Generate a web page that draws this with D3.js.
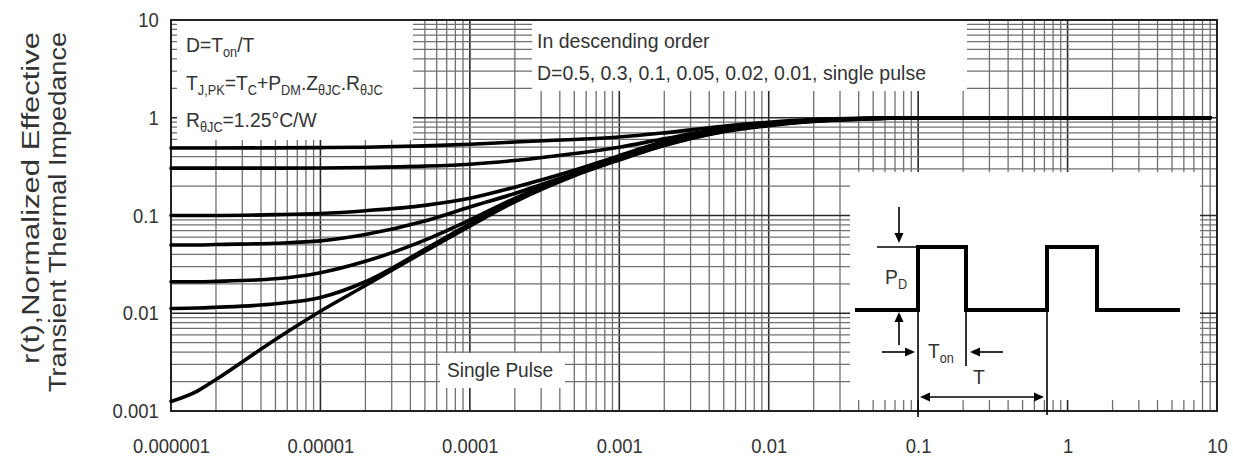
<!DOCTYPE html>
<html><head><meta charset="utf-8">
<script src="https://cdn.jsdelivr.net/npm/d3@7"></script>
<style>body{margin:0;background:#fff} svg{display:block} text{font-family:"Liberation Sans",Arial,sans-serif;}</style>
</head><body><svg id="c" width="1233" height="458"></svg>
<script>
// ---- data ----
const timePoints = [1e-6, 1.5e-6, 2e-6, 5e-6, 1e-5, 2e-5, 5e-5, 1e-4, 2e-4, 5e-4, 1e-3, 2e-3, 5e-3, 1e-2, 2e-2, 5e-2, 0.1, 1, 9];
const seriesNames = ["D=0.5", "D=0.3", "D=0.1", "D=0.05", "D=0.02", "D=0.01", "Single Pulse"];
const d050 = [0.49, 0.49, 0.49, 0.492, 0.495, 0.50, 0.515, 0.535, 0.565, 0.60, 0.635, 0.70, 0.82, 0.90, 0.96, 0.99, 1.0, 1.0, 1.0];
const d030 = [0.305, 0.305, 0.305, 0.305, 0.306, 0.31, 0.32, 0.335, 0.365, 0.43, 0.50, 0.61, 0.78, 0.88, 0.95, 0.99, 1.0, 1.0, 1.0];
const d010 = [0.10, 0.10, 0.10, 0.102, 0.105, 0.112, 0.127, 0.15, 0.195, 0.29, 0.41, 0.57, 0.76, 0.86, 0.94, 0.99, 1.0, 1.0, 1.0];
const d005 = [0.05, 0.05, 0.0505, 0.052, 0.055, 0.064, 0.088, 0.122, 0.168, 0.27, 0.385, 0.55, 0.75, 0.85, 0.935, 0.985, 1.0, 1.0, 1.0];
const d002 = [0.021, 0.021, 0.0212, 0.0225, 0.026, 0.034, 0.056, 0.09, 0.15, 0.265, 0.38, 0.535, 0.74, 0.845, 0.93, 0.985, 1.0, 1.0, 1.0];
const d001 = [0.0112, 0.0113, 0.0115, 0.0125, 0.0145, 0.021, 0.045, 0.082, 0.143, 0.26, 0.375, 0.525, 0.73, 0.84, 0.925, 0.98, 1.0, 1.0, 1.0];
const single = [0.00125, 0.0016, 0.0021, 0.0054, 0.0105, 0.0192, 0.043, 0.078, 0.138, 0.255, 0.37, 0.52, 0.72, 0.83, 0.915, 0.975, 1.0, 1.0, 1.0];
const xTickValues = [1e-6, 1e-5, 1e-4, 1e-3, 1e-2, 0.1, 1, 10];
const xTickLabels = ["0.000001", "0.00001", "0.0001", "0.001", "0.01", "0.1", "1", "10"];
const yTickValues = [0.001, 0.01, 0.1, 1, 10];
const yTickLabels = ["0.001", "0.01", "0.1", "1", "10"];
const yTitleLines = ["r(t),Normalized Effective", "Transient Thermal Impedance"];

// ---- layout ----
const L = 171, R = 1217, T = 20, B = 411;
const svg = d3.select("#c");
const x = d3.scaleLog().domain([1e-6, 10]).range([L, R]);
const y = d3.scaleLog().domain([0.001, 10]).range([B, T]);
const TXT = "#333";

// grid
const grid = svg.append("g");
const xGrid = [], yGrid = [];
for (let e = -6; e <= 0; e++) for (let k = 1; k <= 9; k++) xGrid.push({v: k * Math.pow(10, e), major: k === 1});
xGrid.push({v: 10, major: true});
for (let e = -3; e <= 0; e++) for (let k = 1; k <= 9; k++) yGrid.push({v: k * Math.pow(10, e), major: k === 1});
yGrid.push({v: 10, major: true});
grid.selectAll("line.vx").data(xGrid).join("line")
  .attr("x1", d => x(d.v)).attr("x2", d => x(d.v)).attr("y1", T).attr("y2", B)
  .attr("stroke", d => d.major ? "#2a2a2a" : "#707070").attr("stroke-width", d => d.major ? 1.6 : 1.3);
grid.selectAll("line.hy").data(yGrid).join("line")
  .attr("y1", d => y(d.v)).attr("y2", d => y(d.v)).attr("x1", L).attr("x2", R)
  .attr("stroke", d => d.major ? "#2a2a2a" : "#707070").attr("stroke-width", d => d.major ? 1.6 : 1.3);

// white annotation boxes
const boxes = [
  [177, T + 1, 236, 119],   // top-left formula box
  [532, T + 1, 435, 70],    // legend text box
  [440, 353, 125, 35],      // single pulse label
  [850, 172, 350, 228]      // inset
];
svg.append("g").selectAll("rect").data(boxes).join("rect")
  .attr("x", d => d[0]).attr("y", d => d[1]).attr("width", d => d[2]).attr("height", d => d[3])
  .attr("fill", "#fff");

// frame
svg.append("rect").attr("x", L).attr("y", T).attr("width", R - L).attr("height", B - T)
  .attr("fill", "none").attr("stroke", "#222").attr("stroke-width", 2);

// curves
const allSeries = [d050, d030, d010, d005, d002, d001, single];
const line = d3.line().x((d, i) => x(timePoints[i])).y(d => y(d)).curve(d3.curveMonotoneX);
svg.append("g").selectAll("path").data(allSeries).join("path")
  .attr("d", d => line(d)).attr("fill", "none").attr("stroke", "#000")
  .attr("stroke-width", 3.6).attr("stroke-linejoin", "round").attr("stroke-linecap", "round");

// axes
const xAxis = d3.axisBottom(x).tickValues(xTickValues).tickFormat((d, i) => xTickLabels[i]).tickSize(0).tickPadding(27);
const gx = svg.append("g").attr("transform", `translate(0,${B})`).call(xAxis);
gx.select(".domain").remove();
gx.selectAll("text").style("font-size", "21px").attr("fill", TXT).attr("transform", "scale(0.88,1)");
const yAxis = d3.axisLeft(y).tickValues(yTickValues).tickFormat((d, i) => yTickLabels[i]).tickSize(0).tickPadding(14);
const gy = svg.append("g").attr("transform", `translate(${L},0)`).call(yAxis);
gy.select(".domain").remove();
gy.selectAll("text").style("font-size", "21px").attr("fill", TXT).attr("transform", "scale(0.88,1)");

// y title
svg.append("text").attr("transform", "translate(39,32) rotate(-90) scale(1,0.88)")
  .attr("text-anchor", "end").style("font-size", "27px").attr("fill", TXT)
  .attr("textLength", 332).attr("lengthAdjust", "spacingAndGlyphs").text(yTitleLines[0]);
svg.append("text").attr("transform", "translate(66,32) rotate(-90) scale(1,0.88)")
  .attr("text-anchor", "end").style("font-size", "27px").attr("fill", TXT)
  .attr("textLength", 360).attr("lengthAdjust", "spacingAndGlyphs").text(yTitleLines[1]);

// rich text helper
function rich(px, py, parts, size, sx) {
  const t = svg.append("text").attr("transform", `translate(${px},${py}) scale(${sx},1)`)
    .style("font-size", size + "px").attr("fill", TXT);
  let shifted = false;
  parts.forEach(p => {
    const isSub = p[1];
    const ts = t.append("tspan").text(p[0]);
    if (isSub) { ts.style("font-size", (size * 0.66) + "px"); if (!shifted) { ts.attr("dy", 5); shifted = true; } }
    else if (shifted) { ts.attr("dy", -5); shifted = false; }
  });
  return t;
}
rich(186, 52, [["D=T"], ["on", 1], ["/T"]], 21, 0.92);
rich(186, 90, [["T"], ["J,PK", 1], ["=T"], ["C", 1], ["+P"], ["DM", 1], [".Z"], ["θJC", 1], [".R"], ["θJC", 1]], 21, 0.92);
rich(186, 127, [["R"], ["θJC", 1], ["=1.25°C/W"]], 21, 0.92);
rich(537, 48, [["In descending order"]], 21, 0.93);
rich(537, 80, [["D=0.5, 0.3, 0.1, 0.05, 0.02, 0.01, single pulse"]], 21, 0.93);
rich(447, 377, [["Single Pulse"]], 21, 0.91);

// inset pulse diagram
const ins = svg.append("g").attr("stroke", "#000").attr("fill", "none");
ins.append("path").attr("d", "M855,310 H918 V247 H966 V310 H1047 V247 H1097 V310 H1180")
  .attr("stroke-width", 4).attr("stroke-linejoin", "miter");
const thin = [[877, 247, 917, 247], [918, 247, 918, 417], [1047, 247, 1047, 415], [966, 310, 966, 366],
  [899, 207, 899, 236], [899, 345, 899, 318], [882, 352, 908, 352], [1003, 352, 977, 352], [925, 397, 1038, 397]];
ins.selectAll("line").data(thin).join("line")
  .attr("x1", d => d[0]).attr("y1", d => d[1]).attr("x2", d => d[2]).attr("y2", d => d[3]).attr("stroke-width", 1.6);
const heads = ["899,243 894.5,233 903.5,233", "899,312 894.5,322 903.5,322", "915,352 905,347.5 905,356.5",
  "970,352 980,347.5 980,356.5", "920,397 930,392.5 930,401.5", "1044,397 1034,392.5 1034,401.5"];
svg.append("g").selectAll("polygon").data(heads).join("polygon").attr("points", d => d).attr("fill", "#000");
rich(885, 284, [["P"], ["D", 1]], 21, 0.92);
rich(928, 358, [["T"], ["on", 1]], 21, 0.92);
rich(973, 384, [["T"]], 21, 0.92);
</script></body></html>
